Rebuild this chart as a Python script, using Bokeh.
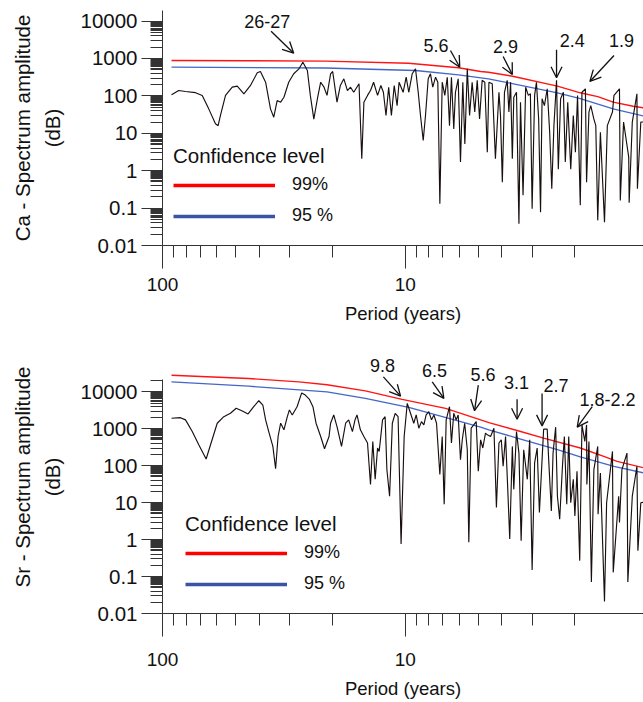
import numpy as np
from bokeh.plotting import figure
from bokeh.layouts import column
from bokeh.models import (Range1d, FixedTicker, CustomJSTickFormatter, Arrow, OpenHead,
                          Label, Legend, LegendItem)
from bokeh.embed import file_html
from bokeh.resources import INLINE

FONT = "Liberation Sans"

# ---------------- Ca panel data ----------------
ca_period = [91.8, 85.7, 80.4, 73.1, 68.6, 64.5, 60.5, 59.0, 57.7, 55.0, 51.6, 49.2, 46.2, 43.4,
             40.7, 39.5, 37.6, 35.9, 34.8, 33.7, 32.6, 31.6, 30.2, 28.8, 27.4, 26.4, 25.3, 24.6,
             23.8, 23.0, 22.3, 21.6, 21.0, 20.3, 19.9, 19.1, 18.5, 17.9, 17.3, 16.8, 16.3, 15.5,
             15.1, 14.8, 14.3, 13.9, 13.5, 13.0, 12.6, 12.3, 12.0, 11.7, 11.4, 11.1, 10.8, 10.6,
             10.2, 9.91, 9.67, 9.36, 9.07, 8.84, 8.65, 8.43, 8.25, 8.04, 7.87, 7.70, 7.50, 7.34,
             7.20, 7.04, 6.87, 6.71, 6.57, 6.45, 6.31, 6.21, 6.05, 5.92, 5.79, 5.68, 5.55, 5.43,
             5.30, 5.17, 5.05, 4.94, 4.82, 4.70, 4.59, 4.52, 4.38, 4.25, 4.11, 4.05, 3.98, 3.90,
             3.80, 3.74, 3.68, 3.62, 3.57, 3.48, 3.40, 3.35, 3.27, 3.19, 3.11, 3.05, 3.00, 2.93,
             2.88, 2.82, 2.77, 2.73, 2.67, 2.60, 2.54, 2.49, 2.44, 2.38, 2.34, 2.29, 2.23, 2.19,
             2.14, 2.08, 2.03, 1.99, 1.95, 1.90, 1.87, 1.81, 1.79, 1.75, 1.72, 1.67, 1.64, 1.61,
             1.57, 1.51, 1.47, 1.40, 1.38, 1.31, 1.30, 1.26, 1.20, 1.195, 1.16, 1.11, 1.105,
             1.07, 1.04]
ca_amp = [107, 139, 131, 122, 103, 45, 18, 16, 30, 103, 171, 182, 114, 190,
          415, 449, 232, 45, 27, 75, 68, 92, 232, 390, 530, 796, 478, 103,
          24, 84, 232, 171, 103, 390, 449, 68, 190, 286, 139, 171, 125, 211,
          2.1, 68, 103, 139, 232, 103, 190, 125, 30, 171, 30, 190, 55, 232,
          125, 316, 125, 390, 530, 125, 30, 6.4, 30, 286, 390, 171, 316, 232,
          0.13, 232, 103, 316, 16, 316, 13, 125, 286, 1.7, 232, 5.2, 530, 30,
          232, 37, 261, 24, 261, 232, 3.1, 232, 211, 2.1, 125, 30, 0.49, 125,
          261, 37, 232, 2.1, 92, 125, 0.038, 68, 0.22, 171, 103, 114, 0.096, 103,
          232, 24, 0.078, 84, 55, 155, 10.7, 0.33, 16, 261, 1.1, 84, 125, 1.7,
          68, 1.1, 30, 3.1, 103, 0.12, 125, 155, 0.49, 37, 55, 24, 16, 0.047,
          10.7, 0.042, 16, 37, 103, 155, 0.16, 20, 2.3, 0.14, 20, 114, 0.33,
          20, 20]
ca_p99_period = [91.8, 44.0, 21.3, 9.69, 6.03, 4.89, 4.54, 3.61, 2.36, 1.90, 1.61, 1.39, 1.15, 1.04]
ca_p99_amp = [883, 870, 850, 748, 564, 449, 430, 336, 182, 121, 96, 68, 53, 48]
ca_p95_period = [91.8, 21.3, 9.07, 6.03, 4.54, 3.58, 2.36, 1.90, 1.39, 1.04]
ca_p95_amp = [585, 557, 478, 366, 286, 211, 121, 84, 45, 29]
ca_notes = ["26-27", "5.6", "2.9", "2.4", "1.9"]
ca_note_x = [37.0, 7.47, 3.86, 2.05, 1.285]
ca_note_y = [9460, 2228, 2094, 3030, 3030]
ca_arrow_x0 = [35.7, 6.51, 3.95, 2.38, 1.38]
ca_arrow_y0 = [5370, 1637, 1130, 1709, 1203]
ca_arrow_x1 = [28.8, 5.96, 3.62, 2.38, 1.735]
ca_arrow_y1 = [1387, 585, 373, 305, 243]

# ---------------- Sr panel data ----------------
sr_period = [91.8, 84.3, 80.4, 75.4, 70.9, 66.1, 63.4, 59.5, 55.9, 52.5, 49.7, 46.9, 44.4, 42.1,
             40.1, 38.6, 37.6, 36.5, 35.1, 34.2, 33.4, 32.6, 31.6, 30.6, 30.0, 29.2, 27.9, 26.7,
             25.8, 24.8, 24.0, 23.3, 22.3, 21.5, 20.6, 20.3, 19.7, 19.1, 18.3, 17.6, 17.1, 16.5,
             16.1, 15.8, 15.3, 14.8, 14.3, 13.9, 13.6, 13.3, 13.0, 12.8, 12.4, 12.1, 11.9, 11.6,
             11.3, 11.0, 10.7, 10.4, 10.1, 9.81, 9.51, 9.22, 9.01, 8.79, 8.57, 8.38, 8.20, 8.00,
             7.79, 7.62, 7.43, 7.20, 7.04, 6.91, 6.78, 6.57, 6.45, 6.31, 6.17, 6.05, 5.92, 5.82,
             5.69, 5.55, 5.47, 5.35, 5.22, 5.10, 5.00, 4.89, 4.79, 4.67, 4.59, 4.45, 4.31, 4.21,
             4.11, 4.02, 3.95, 3.86, 3.78, 3.71, 3.62, 3.57, 3.48, 3.40, 3.33, 3.25, 3.14, 3.07,
             3.00, 2.93, 2.86, 2.80, 2.73, 2.69, 2.60, 2.56, 2.50, 2.46, 2.40, 2.36, 2.31, 2.25,
             2.21, 2.16, 2.12, 2.08, 2.03, 2.00, 1.96, 1.91, 1.87, 1.82, 1.79, 1.785, 1.75, 1.71,
             1.67, 1.61, 1.605, 1.57, 1.51, 1.48, 1.40, 1.39, 1.32, 1.31, 1.28, 1.22, 1.21, 1.16,
             1.11, 1.10, 1.07, 1.04]
sr_amp = [1940, 2010, 1750, 845, 372, 153, 372, 1420, 2140, 2640, 3600, 3050, 2530, 3980,
          5770, 4420, 1750, 845, 335, 83, 621, 1420, 940, 2140, 3250, 2380, 3980, 9400,
          8200, 6280, 3980, 1420, 621, 290, 621, 1420, 2380, 1150, 335, 1420, 1750, 845,
          1750, 2380, 940, 621, 413, 31, 456, 43, 303, 245, 1750, 2140, 79, 15,
          1420, 2640, 2140, 0.76, 621, 4910, 2640, 1420, 2380, 1040, 1570, 1280, 2380, 2920,
          1750, 2380, 1420, 58, 621, 9.1, 1750, 3980, 413, 2640, 1750, 2380, 147, 506,
          1420, 272, 0.85, 1040, 1280, 1570, 71, 506, 303, 765, 690, 621, 1040, 7.4,
          413, 506, 97, 621, 23, 1.04, 335, 23, 845, 221, 0.93, 272, 43, 506,
          0.15, 120, 303, 5.4, 147, 980, 980, 120, 6.0, 221, 1110, 15, 3.6, 97,
          621, 9.1, 621, 10, 43, 4.4, 71, 0.27, 1280, 456, 1280, 31, 456, 0.071,
          79, 335, 4.9, 64, 0.021, 10, 245, 0.13, 15, 2.9, 79, 221, 0.071, 15,
          97, 0.50, 10, 10.3]
sr_p99_period = [91.8, 44.2, 27.4, 21.0, 14.6, 10.3, 6.82, 4.89, 4.52, 3.46, 2.69, 1.90, 1.52,
                 1.34, 1.04]
sr_p99_amp = [28300, 23100, 18700, 15700, 10700, 6280, 3590, 1746, 1476, 900, 562, 303, 180,
              132, 88]
sr_p95_period = [91.8, 44.2, 21.0, 14.6, 9.67, 4.89, 4.52, 3.46, 2.36, 1.90, 1.38, 1.04]
sr_p95_amp = [18700, 14300, 10000, 6680, 3830, 1110, 940, 562, 272, 173, 97, 64]
sr_notes = ["9.8", "6.5", "5.6", "3.1", "2.7", "1.8-2.2"]
sr_note_x = [12.4, 7.57, 4.78, 3.48, 2.39, 1.467]
sr_note_y = [52500, 37400, 30100, 17800, 15200, 6400]
sr_arrow_x0 = [12.3, 7.74, 5.00, 3.46, 2.73, 1.696]
sr_arrow_y0 = [25500, 18700, 15200, 6290, 9120, 3980]
sr_arrow_x1 = [10.45, 6.93, 5.18, 3.46, 2.73, 1.956]
sr_arrow_y1 = [7710, 6690, 3100, 1820, 1205, 1110]

# ---------------- axes ticks ----------------
x_major = [1, 10, 100]
x_minor = [k * 10 ** e for e in (0, 1) for k in (2, 3, 4, 5, 6, 7, 8, 9)]
y_major = [0.01, 0.1, 1, 10, 100, 1000, 10000]
y_minor = [k * 10.0 ** e for e in range(-2, 5)
           for k in (2, 3, 4, 5, 5.5, 6, 6.5, 7, 7.5, 8, 8.5, 9, 9.5) if k * 10.0 ** e <= 22000]
legend_labels = ["99%", "95 %"]

RED = "#ff1414"
BLUE = "#4466c8"
LRED = "#ff0000"
LBLUE = "#3a53a4"
INK = "#1a0f0f"


def make_panel(ylabel, period, amp, p99x, p99y, p95x, p95y, height, mbt, mbb, ytop, ybound,
               notes, nx, ny, ax0, ay0, ax1, ay1, leg_loc, xlab_standoff, xaxis_standoff):
    p = figure(width=643, height=height, x_axis_type="log", y_axis_type="log",
               x_range=Range1d(100, 1.043), y_range=Range1d(0.01, ytop),
               output_backend="svg", toolbar_location=None,
               min_border_left=162, min_border_right=0, min_border_top=mbt,
               min_border_bottom=mbb)
    p.outline_line_color = None
    p.xgrid.visible = False
    p.ygrid.visible = False
    p.background_fill_color = "white"

    p.line(p99x, p99y, line_color=RED, line_width=1.4)
    p.line(p95x, p95y, line_color=BLUE, line_width=1.3)
    p.line(period, amp, line_color=INK, line_width=1.15)

    # x axis
    xa = p.xaxis[0]
    xa.ticker = FixedTicker(ticks=x_major, minor_ticks=x_minor)
    xa.formatter = CustomJSTickFormatter(code="return String(tick)")
    xa.major_tick_out = 23
    xa.major_tick_in = 0
    xa.minor_tick_out = 12
    xa.minor_tick_in = 0
    xa.major_label_standoff = xlab_standoff
    xa.major_label_text_font = FONT
    xa.major_label_text_font_size = "19px"
    xa.major_label_text_color = "#111111"
    xa.axis_label = "Period (years)"
    xa.axis_label_text_font = FONT
    xa.axis_label_text_font_size = "18.5px"
    xa.axis_label_text_font_style = "normal"
    xa.axis_label_text_color = "#111111"
    xa.axis_label_standoff = xaxis_standoff
    xa.axis_line_color = "#333333"
    xa.major_tick_line_color = "#333333"
    xa.minor_tick_line_color = "#333333"

    # y axis
    ya = p.yaxis[0]
    ya.ticker = FixedTicker(ticks=y_major, minor_ticks=y_minor)
    ya.formatter = CustomJSTickFormatter(code="return String(tick)")
    ya.bounds = (0.01, ybound)
    ya.major_tick_out = 21
    ya.major_tick_in = 0
    ya.minor_tick_out = 12
    ya.minor_tick_in = 0
    ya.major_label_standoff = 4
    ya.major_label_text_font = FONT
    ya.major_label_text_font_size = "20.5px"
    ya.major_label_text_color = "#111111"
    ya.axis_label = ylabel
    ya.axis_label_text_font = FONT
    ya.axis_label_text_font_size = "20.5px"
    ya.axis_label_text_font_style = "normal"
    ya.axis_label_text_color = "#111111"
    ya.axis_label_text_line_height = 1.32
    ya.axis_label_standoff = 13
    ya.axis_line_color = "#333333"
    ya.major_tick_line_color = "#333333"
    ya.minor_tick_line_color = "#333333"

    # annotations
    for t, x, y in zip(notes, nx, ny):
        p.add_layout(Label(x=x, y=y, text=t, text_align="center", text_baseline="middle",
                           text_font=FONT, text_font_size="18px", text_color="#111111"))
    for xs, ys, xe, ye in zip(ax0, ay0, ax1, ay1):
        p.add_layout(Arrow(x_start=xs, y_start=ys, x_end=xe, y_end=ye, line_width=1.3,
                           line_color="#111111",
                           end=OpenHead(size=11, line_width=1.3, line_color="#111111")))

    # legend (placeholder renderers with thicker lines; NaN data draws nothing)
    r99 = p.line(np.array([np.nan]), np.array([np.nan]), line_color=LRED, line_width=3.5)
    r95 = p.line(np.array([np.nan]), np.array([np.nan]), line_color=LBLUE, line_width=3.5)
    leg = Legend(items=[LegendItem(label=legend_labels[0], renderers=[r99]),
                        LegendItem(label=legend_labels[1], renderers=[r95])],
                 title="Confidence level", location=leg_loc)
    leg.title_text_font = FONT
    leg.title_text_font_size = "20.5px"
    leg.title_text_font_style = "normal"
    leg.title_text_color = "#111111"
    leg.title_standoff = 6
    leg.label_text_font = FONT
    leg.label_text_font_size = "18px"
    leg.label_text_color = "#111111"
    leg.glyph_width = 102
    leg.glyph_height = 20
    leg.label_height = 20
    leg.label_standoff = 17
    leg.spacing = 10
    leg.padding = 0
    leg.margin = 0
    leg.border_line_color = None
    leg.background_fill_alpha = 0
    p.add_layout(leg)
    return p


p1 = make_panel("Ca - Spectrum amplitude\n(dB)", ca_period, ca_amp, ca_p99_period, ca_p99_amp,
                ca_p95_period, ca_p95_amp, 335, 10, 90, 19200, 19200,
                ca_notes, ca_note_x, ca_note_y, ca_arrow_x0, ca_arrow_y0, ca_arrow_x1, ca_arrow_y1,
                (11, 19), 9, 9)
p2 = make_panel("Sr - Spectrum amplitude\n(dB)", sr_period, sr_amp, sr_p99_period, sr_p99_amp,
                sr_p95_period, sr_p95_amp, 366, 5, 86, 246900, 22100,
                sr_notes, sr_note_x, sr_note_y, sr_arrow_x0, sr_arrow_y0, sr_arrow_x1, sr_arrow_y1,
                (23, 19), 16, 9)

layout = column(p1, p2, spacing=0)
open("out.html", "w").write(file_html(layout, INLINE))
